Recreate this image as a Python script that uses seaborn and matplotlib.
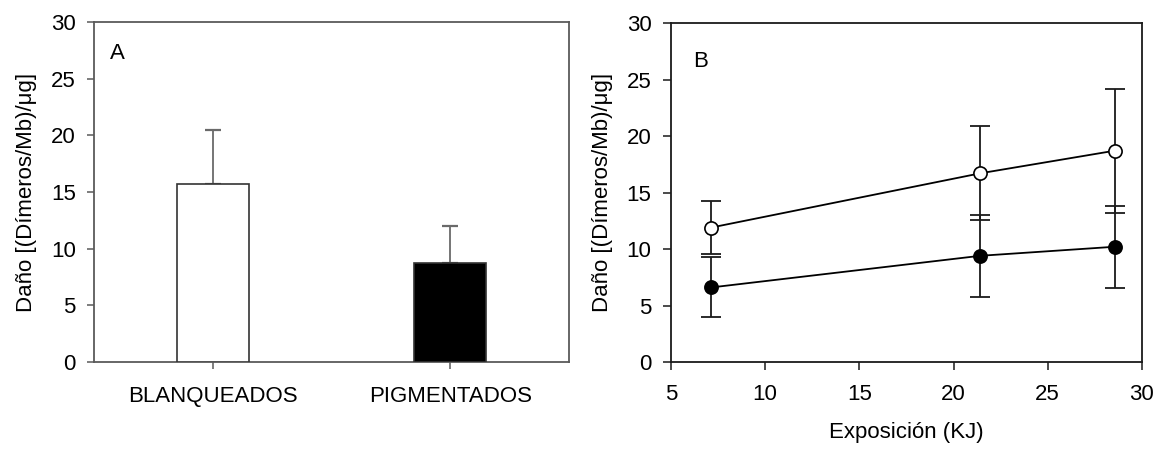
import matplotlib
matplotlib.use("Agg")
import matplotlib.pyplot as plt
import seaborn as sns
import pandas as pd
import numpy as np

# Panel A: mean damage per group, with upper SD
grupos = ["BLANQUEADOS", "PIGMENTADOS"]
dano_medio = [15.7, 8.7]
dano_error = [4.8, 3.3]
colores_barras = ["white", "black"]

# Panel B: damage vs exposure
exposicion = [7.14, 21.42, 28.56]
blanqueados_medio = [11.9, 16.7, 18.7]
blanqueados_error = [2.35, 4.15, 5.5]
pigmentados_medio = [6.6, 9.4, 10.2]
pigmentados_error = [2.65, 3.65, 3.65]

y_ticks = [0, 5, 10, 15, 20, 25, 30]
x_ticks_b = [5, 10, 15, 20, 25, 30]
etiqueta_y = "Daño [(Dímeros/Mb)/μg]"
etiqueta_x_b = "Exposición (KJ)"

sns.set_theme(style="white")
plt.rcParams["font.family"] = ["Liberation Sans", "DejaVu Sans"]
plt.rcParams.update({
    "font.size": 16,
    "axes.labelsize": 16,
    "xtick.labelsize": 16,
    "ytick.labelsize": 16,
    "text.color": "black",
    "axes.labelcolor": "black",
    "xtick.color": "black",
    "ytick.color": "black",
})

fig = plt.figure(figsize=(11.56, 4.51), dpi=100)
ax_a = fig.add_axes([0.0813, 0.1973, 0.4109, 0.7539])
ax_b = fig.add_axes([0.5804, 0.1973, 0.4074, 0.7517])

# ---- Panel A ----
df_a = pd.DataFrame({"grupo": grupos, "dano": dano_medio})
sns.barplot(data=df_a, x="grupo", y="dano", hue="grupo", palette=colores_barras,
            width=0.305, edgecolor="#333333", linewidth=1.2, legend=False, ax=ax_a,
            zorder=3)
ax_a.errorbar(range(len(grupos)), dano_medio,
              yerr=[np.zeros(len(grupos)), dano_error],
              fmt="none", ecolor="#6a6a6a", elinewidth=1.3, capsize=5.5,
              capthick=1.6, zorder=2)
ax_a.set_xlim(-0.5, 1.5)
ax_a.set_ylim(0, 30)
ax_a.set_yticks(y_ticks)
ax_a.set_xlabel("")
ax_a.set_ylabel(etiqueta_y, fontsize=16, labelpad=10)
ax_a.text(0.034, 0.89, "A", transform=ax_a.transAxes, fontsize=16,
          ha="left", va="baseline")
for s in ax_a.spines.values():
    s.set_color("#5a5a5a")
    s.set_linewidth(1.3)
ax_a.tick_params(axis="both", which="major", direction="out", length=5,
                 width=1.1, color="#5a5a5a", labelcolor="black", labelsize=16,
                 pad=8, bottom=True, left=True)
ax_a.tick_params(axis="x", pad=12)

# ---- Panel B ----
series = [
    (blanqueados_medio, blanqueados_error, "white"),
    (pigmentados_medio, pigmentados_error, "black"),
]
for medio, error, relleno in series:
    ax_b.errorbar(exposicion, medio, yerr=error, fmt="none", ecolor="#1a1a1a",
                  elinewidth=1.3, capsize=7, capthick=1.3, zorder=2)
    df_b = pd.DataFrame({"exposicion": exposicion, "dano": medio})
    sns.lineplot(data=df_b, x="exposicion", y="dano", color="black",
                 linewidth=1.3, marker="o", markersize=9.5,
                 markerfacecolor=relleno, markeredgecolor="black",
                 markeredgewidth=1.2, ax=ax_b, zorder=3)

ax_b.set_xlim(5, 30)
ax_b.set_ylim(0, 30)
ax_b.set_xticks(x_ticks_b)
ax_b.set_yticks(y_ticks)
ax_b.set_xlabel(etiqueta_x_b, fontsize=16, labelpad=12)
ax_b.set_ylabel(etiqueta_y, fontsize=16, labelpad=10)
ax_b.text(0.047, 0.87, "B", transform=ax_b.transAxes, fontsize=16,
          ha="left", va="baseline")
for s in ax_b.spines.values():
    s.set_color("#1a1a1a")
    s.set_linewidth(1.3)
ax_b.tick_params(axis="both", which="major", direction="out", length=6,
                 width=1.1, color="#1a1a1a", labelcolor="black", labelsize=16,
                 pad=8, bottom=True, left=True)
ax_b.tick_params(axis="x", pad=10)

fig.savefig("out.png", dpi=100, facecolor="white")
